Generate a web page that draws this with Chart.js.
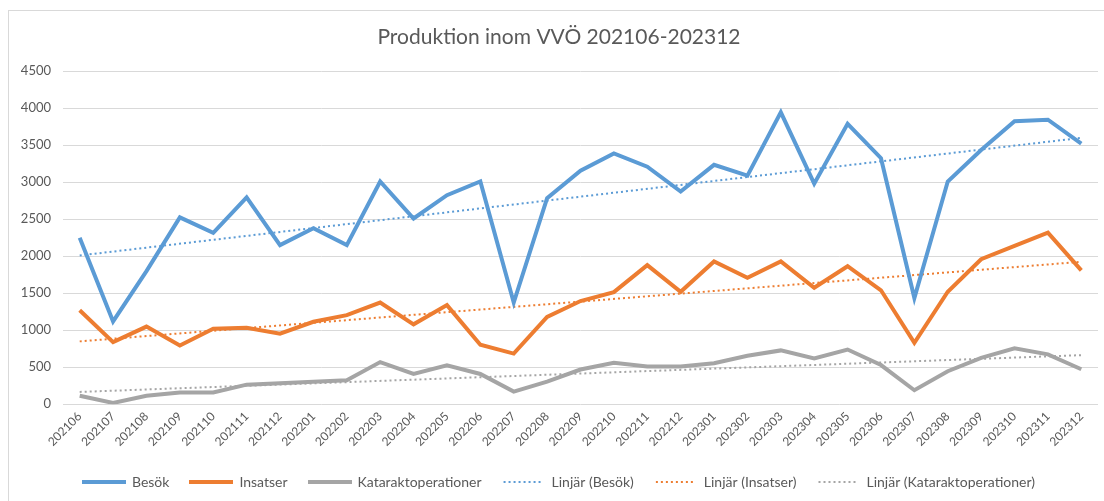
<!DOCTYPE html>
<html>
<head>
<meta charset="utf-8">
<script src="https://cdn.jsdelivr.net/npm/chart.js@4"></script>
<style>
    html, body { margin: 0; padding: 0; background: #fff; overflow: hidden; }
    #wrap { position: relative; width: 1104px; height: 501px; }
    #frame { position: absolute; left: 8px; top: 10px; width: 1110px; height: 510px; border: 1px solid #d9d9d9; }
    #prodChart { position: absolute; left: 0; top: 0; }
</style>
</head>
<body>
<div id="wrap">
    <div id="frame"></div>
    <canvas id="prodChart" width="1104" height="501"></canvas>
</div>
<script>
// Data
const months = [
    "202106", "202107", "202108", "202109", "202110", "202111", "202112",
    "202201", "202202", "202203", "202204", "202205", "202206", "202207", "202208", "202209", "202210", "202211", "202212",
    "202301", "202302", "202303", "202304", "202305", "202306", "202307", "202308", "202309", "202310", "202311", "202312"
];
const besok = [2250, 1120, 1800, 2525, 2315, 2795, 2150, 2380, 2150, 3010, 2510, 2825, 3010, 1375, 2785, 3155, 3390, 3210, 2875, 3235, 3090, 3945, 2980, 3790, 3325, 1435, 3010, 3435, 3825, 3845, 3520];
const insatser = [1270, 840, 1050, 795, 1020, 1035, 955, 1115, 1205, 1375, 1080, 1340, 805, 685, 1180, 1395, 1515, 1880, 1520, 1930, 1710, 1930, 1575, 1865, 1540, 830, 1520, 1960, 2140, 2320, 1810];
const katarakt = [115, 18, 115, 160, 160, 265, 285, 305, 325, 570, 410, 525, 410, 172, 305, 470, 560, 510, 510, 555, 655, 728, 620, 740, 530, 190, 447, 628, 755, 675, 474];

// Trend line end points (first and last month), as drawn in the reference
const trendBesok = [2010, 3600];
const trendInsatser = [850, 1925];
const trendKatarakt = [167, 664];
const yTicks = [0, 500, 1000, 1500, 2000, 2500, 3000, 3500, 4000, 4500];

const BLUE = "#5B9BD5";
const ORANGE = "#ED7D31";
const GREY = "#A5A5A5";
const TEXT = "#595959";

function trendSeries(ends) {
    // only endpoints, gaps spanned by a straight line
    const arr = months.map(() => null);
    arr[0] = ends[0];
    arr[months.length - 1] = ends[1];
    return arr;
}

// small canvases used as legend symbols
function legendIcon(color, dotted) {
    const c = document.createElement("canvas");
    c.width = 44;
    c.height = 4;
    const g = c.getContext("2d");
    g.fillStyle = color;
    if (dotted) {
        for (let x = 2; x < 42; x += 5) g.fillRect(x, 1, 2, 2);
    } else {
        g.fillRect(0, 0, 44, 4);
    }
    return c;
}

function solid(label, data, color) {
    return {
        label: label, data: data,
        borderColor: color, backgroundColor: color,
        borderWidth: 4, pointRadius: 0, pointStyle: legendIcon(color, false),
        tension: 0, borderJoinStyle: "miter"
    };
}

function dotted(label, ends, color) {
    return {
        label: label, data: trendSeries(ends),
        borderColor: color, backgroundColor: color,
        borderWidth: 2, borderDash: [2, 3], borderCapStyle: "butt",
        pointRadius: 0, pointStyle: legendIcon(color, true), spanGaps: true
    };
}

Chart.defaults.font.family = "Lato, 'Open Sans', sans-serif";
Chart.defaults.color = TEXT;

new Chart(document.getElementById("prodChart").getContext("2d"), {
    type: "line",
    data: {
        labels: months,
        datasets: [
            solid("Besök", besok, BLUE),
            solid("Insatser", insatser, ORANGE),
            solid("Kataraktoperationer", katarakt, GREY),
            dotted("Linjär (Besök)", trendBesok, BLUE),
            dotted("Linjär (Insatser)", trendInsatser, ORANGE),
            dotted("Linjär (Kataraktoperationer)", trendKatarakt, GREY)
        ]
    },
    options: {
        responsive: false,
        animation: false,
        layout: { padding: { left: 20, right: 6, top: 0, bottom: 2 } },
        plugins: {
            title: {
                display: true,
                text: "Produktion inom VVÖ 202106-202312",
                color: TEXT,
                font: { size: 21, weight: "normal" },
                padding: { top: 25, bottom: 21 }
            },
            legend: {
                position: "bottom",
                labels: {
                    usePointStyle: true,
                    pointStyleWidth: 42,
                    boxHeight: 14,
                    padding: 21,
                    color: TEXT,
                    font: { size: 14 }
                }
            },
            tooltip: { enabled: false }
        },
        scales: {
            x: {
                offset: true,
                grid: { display: false, drawTicks: false },
                border: { display: false },
                ticks: {
                    autoSkip: false,
                    minRotation: 45,
                    maxRotation: 45,
                    padding: 5,
                    color: TEXT,
                    font: { size: 12 }
                }
            },
            y: {
                min: 0,
                max: 4500,
                afterBuildTicks: axis => { axis.ticks = yTicks.map(v => ({ value: v })); },
                // fixed axis width so the plot starts where the reference does
                afterFit: axis => { axis.width = 43; },
                grid: { color: "#d9d9d9", lineWidth: 1, drawTicks: false },
                border: { display: false },
                ticks: {
                    padding: 12,
                    color: TEXT,
                    font: { size: 13 },
                    callback: v => String(v)
                }
            }
        }
    }
});
</script>
</body>
</html>
